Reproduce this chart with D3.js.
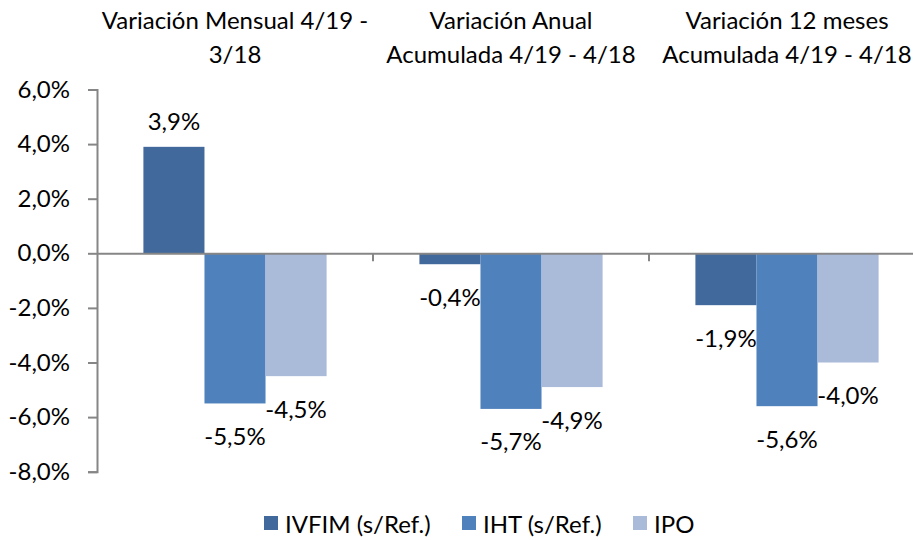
<!DOCTYPE html>
<html lang="es">
<head>
  <meta charset="UTF-8">
  <style>
    body { margin: 0; background: #fff; }
    svg text { font-family: Lato, "Open Sans", sans-serif; fill: #000; }
  </style>
</head>
<body>
  <svg id="svg" width="913" height="540"></svg>

  <script src="https://d3js.org/d3.v7.min.js"></script>
  <script>
    // data
    const categories = ['mensual', 'anual', 'doce']
    const categoryLabels = [
        ['Variación Mensual 4/19 -', '3/18'],
        ['Variación Anual', 'Acumulada 4/19 - 4/18'],
        ['Variación 12 meses', 'Acumulada 4/19 - 4/18']
    ]
    const seriesNames = ['IVFIM (s/Ref.)', 'IHT (s/Ref.)', 'IPO']
    const seriesColors = ['#41699b', '#4f81bd', '#aabad9']
    const ivfim = [3.9, -0.4, -1.9]
    const iht = [-5.5, -5.7, -5.6]
    const ipo = [-4.5, -4.9, -4.0]
    const yTicks = [6, 4, 2, 0, -2, -4, -6, -8]

    const allSeries = [ivfim, iht, ipo]
    const rows = []
    categories.forEach((c, i) => {
        allSeries.forEach((s, j) => {
            rows.push({ cat: c, series: seriesNames[j], value: s[i], color: seriesColors[j] })
        })
    })

    const svg = d3.select('#svg')
    const axisColor = '#868686'
    const fontSize = 24
    const fmt = v => d3.format('.1f')(v).replace('.', ',').replace('−', '-') + '%'

    // scales
    const x0 = d3.scaleBand()
        .domain(categories)
        .range([97, 925])
    const x1 = d3.scaleBand()
        .domain(seriesNames)
        .range([0, x0.bandwidth()])
        .paddingInner(0)
        .paddingOuter(0.76)
    const y = d3.scaleLinear()
        .domain([-8, 6])
        .range([471.7, 89.5])

    // left axis
    const leftAxis = d3.axisLeft(y)
        .tickValues(yTicks)
        .tickSize(9)
        .tickPadding(18)
        .tickFormat(fmt)
    const gy = svg.append('g')
        .attr('transform', 'translate(97,0)')
        .call(leftAxis)
    gy.select('.domain').attr('stroke', axisColor).attr('stroke-width', 2)
    gy.selectAll('.tick line').attr('stroke', axisColor).attr('stroke-width', 2)
    gy.selectAll('.tick text')
        .attr('font-size', fontSize)
        .attr('fill', '#000')
        .style('font-family', 'Lato, sans-serif')

    // bars
    svg.append('g')
        .selectAll('rect')
        .data(rows)
        .enter()
        .append('rect')
        .attr('x', d => x0(d.cat) + x1(d.series))
        .attr('y', d => y(Math.max(0, d.value)))
        .attr('width', x1.bandwidth())
        .attr('height', d => Math.abs(y(d.value) - y(0)))
        .attr('fill', d => d.color)

    // zero axis with category ticks
    const bottomAxis = d3.axisBottom(x0)
        .tickValues([])
        .tickSizeOuter(0)
    const gx = svg.append('g')
        .attr('transform', `translate(0, ${y(0)})`)
        .call(bottomAxis)
    gx.select('.domain').attr('stroke', axisColor).attr('stroke-width', 2)
    gx.selectAll('.sep')
        .data(categories.slice(1))
        .enter()
        .append('line')
        .attr('class', 'sep')
        .attr('x1', d => x0(d))
        .attr('x2', d => x0(d))
        .attr('y1', 0)
        .attr('y2', 8)
        .attr('stroke', axisColor)
        .attr('stroke-width', 2)

    // value labels
    svg.append('g')
        .selectAll('text')
        .data(rows)
        .enter()
        .append('text')
        .attr('x', d => x0(d.cat) + x1(d.series) + x1.bandwidth() / 2)
        .attr('y', d => d.value >= 0 ? y(d.value) - 26 : y(d.value) + 32)
        .attr('text-anchor', 'middle')
        .attr('dominant-baseline', 'central')
        .attr('font-size', fontSize)
        .text(d => fmt(d.value))

    // category titles on top
    const titles = svg.append('g')
        .selectAll('text')
        .data(categories)
        .enter()
        .append('text')
        .attr('text-anchor', 'middle')
        .attr('font-size', fontSize)
    titles.selectAll('tspan')
        .data((d, i) => categoryLabels[i].map(t => ({ t, cx: x0(d) + x0.bandwidth() / 2 })))
        .enter()
        .append('tspan')
        .attr('x', d => d.cx)
        .attr('y', (d, i) => i === 0 ? 29 : 63)
        .text(d => d.t)

    // legend
    const legendX = [264, 462, 633]
    const legend = svg.append('g')
        .selectAll('g')
        .data(seriesNames)
        .enter()
        .append('g')
        .attr('transform', (d, i) => `translate(${legendX[i]}, 523)`)
    legend.append('rect')
        .attr('x', 0)
        .attr('y', -7)
        .attr('width', 14)
        .attr('height', 14)
        .attr('fill', (d, i) => seriesColors[i])
    legend.append('text')
        .attr('x', 21)
        .attr('dominant-baseline', 'central')
        .attr('font-size', fontSize)
        .text(d => d)
  </script>
</body>
</html>
